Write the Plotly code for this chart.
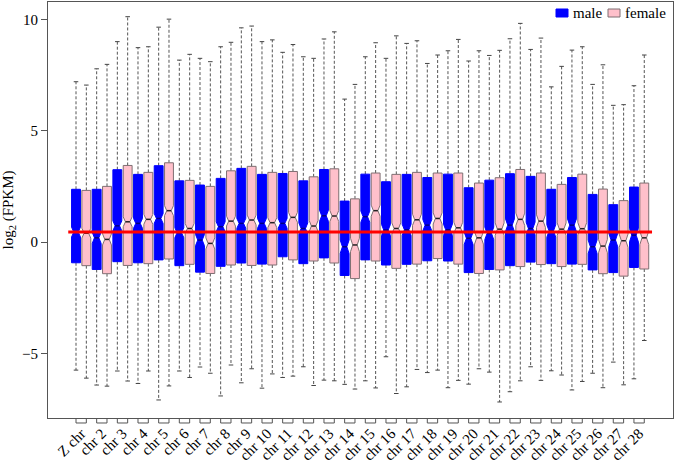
import plotly.graph_objects as go

# chromosome labels, one pair of boxes (male, female) per chromosome
chroms = ["Z chr", "chr 2", "chr 3", "chr 4", "chr 5", "chr 6", "chr 7", "chr 8",
          "chr 9", "chr 10", "chr 11", "chr 12", "chr 13", "chr 14", "chr 15",
          "chr 16", "chr 17", "chr 18", "chr 19", "chr 20", "chr 21", "chr 22",
          "chr 23", "chr 24", "chr 25", "chr 26", "chr 27", "chr 28"]

# log2(FPKM) box statistics
male_upper = [7.20, 7.78, 9.00, 8.73, 9.65, 8.17, 8.25, 8.77, 9.62, 9.00, 8.52, 8.32, 9.12, 6.42,
              8.32, 8.25, 8.92, 8.02, 8.59, 8.13, 8.38, 9.13, 8.65, 6.97, 8.62, 7.08, 6.14, 7.02]
male_q3 = [2.37, 2.37, 3.25, 3.04, 3.43, 2.75, 2.56, 2.86, 3.31, 3.04, 3.08, 2.75, 3.26, 1.84,
           3.05, 2.71, 3.04, 2.90, 3.05, 2.44, 2.78, 3.07, 2.95, 2.37, 2.90, 2.14, 1.68, 2.47]
male_median = [0.45, 0.19, 0.73, 0.84, 1.06, 0.42, 0.09, 0.69, 0.84, 0.84, 0.84, 0.61, 1.18, -0.21,
               1.14, 0.54, 0.55, 0.76, 0.55, 0.17, 0.39, 0.76, 0.61, 0.50, 0.76, -0.21, 0.09, 0.31]
male_q1 = [-0.93, -1.23, -0.88, -0.93, -0.80, -1.06, -1.35, -1.09, -0.94, -0.99, -0.66, -0.97, -0.71, -1.50,
           -0.80, -1.03, -1.00, -0.84, -0.85, -1.37, -1.23, -1.06, -0.90, -0.97, -0.99, -1.25, -1.37, -1.14]
male_lower = [-5.75, -6.42, -5.79, -6.35, -7.09, -5.79, -5.61, -6.91, -6.32, -6.56, -6.08, -5.60, -6.20, -6.39,
              -6.23, -5.15, -6.50, -5.86, -6.54, -6.38, -5.84, -6.72, -5.60, -5.78, -6.64, -5.89, -5.39, -6.14]
male_notch = [0.22, 0.25, 0.22, 0.22, 0.22, 0.22, 0.25, 0.22, 0.22, 0.22, 0.22, 0.25, 0.25, 0.30,
              0.25, 0.25, 0.25, 0.25, 0.25, 0.28, 0.28, 0.28, 0.28, 0.28, 0.28, 0.30, 0.30, 0.30]

female_upper = [7.05, 7.98, 10.12, 8.77, 10.01, 8.43, 8.10, 8.97, 9.70, 9.08, 8.87, 8.25, 9.44, 7.08,
                8.95, 9.26, 9.04, 8.40, 9.10, 8.59, 8.61, 9.82, 9.16, 7.89, 8.77, 7.96, 6.17, 8.40]
female_q3 = [2.32, 2.50, 3.44, 3.13, 3.56, 2.77, 2.50, 3.20, 3.40, 3.13, 3.17, 2.93, 3.29, 1.94,
             3.10, 3.04, 3.13, 3.10, 3.10, 2.65, 2.89, 3.26, 3.10, 2.59, 3.05, 2.38, 1.86, 2.65]
female_median = [0.40, 0.12, 0.91, 1.02, 1.41, 0.61, -0.06, 0.94, 0.99, 0.87, 1.11, 0.72, 1.17, -0.13,
                 1.41, 0.61, 1.00, 1.06, 0.64, 0.19, 0.58, 1.02, 0.94, 0.58, 0.60, -0.18, 0.06, 0.19]
female_q1 = [-1.06, -1.42, -1.05, -0.97, -0.76, -1.00, -1.41, -1.03, -1.05, -1.03, -0.80, -0.85, -0.94, -1.64,
             -0.85, -1.18, -0.99, -0.74, -0.99, -1.41, -1.25, -1.10, -1.01, -1.10, -1.00, -1.42, -1.53, -1.21]
female_lower = [-6.11, -6.47, -6.24, -5.79, -6.46, -6.08, -5.89, -5.52, -5.69, -5.92, -6.02, -6.44, -6.23, -6.60,
                -6.55, -6.80, -5.72, -5.75, -6.21, -5.69, -7.18, -6.23, -6.21, -5.97, -6.26, -6.54, -6.41, -4.42]
female_notch = [0.22, 0.25, 0.22, 0.22, 0.22, 0.22, 0.25, 0.22, 0.22, 0.22, 0.22, 0.25, 0.25, 0.30,
                0.25, 0.25, 0.25, 0.25, 0.25, 0.28, 0.28, 0.28, 0.28, 0.28, 0.28, 0.30, 0.30, 0.30]

ref_level = 0.45  # red horizontal reference line

FONT = "Liberation Serif"
W, H = 674, 464
ML, MR, MT, MB = 48, 1, 2, 46
xmin, xmax = -1.71, 58.78
ymin, ymax = -7.90, 10.78
HALF = 0.43        # half box width (x units)
NOTCH_FRAC = 0.5   # waist width relative to the box, like R's notched boxplot

male_pos = [2 * i + 1 for i in range(len(chroms))]
female_pos = [2 * i + 2 for i in range(len(chroms))]
pair_mid = [p + 0.5 for p in male_pos]


def whisker_xy(pos, q1, q3, lo, hi):
    xs, ys = [], []
    for p, a, b, l, h in zip(pos, q1, q3, lo, hi):
        xs += [p, p, None, p, p, None]
        ys += [b, h, None, a, l, None]
    return xs, ys


def cap_xy(pos, lo, hi, half=0.22):
    xs, ys = [], []
    for p, l, h in zip(pos, lo, hi):
        xs += [p - half, p + half, None, p - half, p + half, None]
        ys += [h, h, None, l, l, None]
    return xs, ys


def notched_xy(pos, q1, med, q3, notch):
    # outline of R style notched boxes, one closed polygon per box
    xs, ys = [], []
    for p, a, m, b, n in zip(pos, q1, med, q3, notch):
        w, nw = HALF, HALF * NOTCH_FRAC
        xs += [p - w, p - w, p - nw, p - w, p - w, p + w, p + w, p + nw, p + w, p + w, p - w, None]
        ys += [a, m - n, m, m + n, b, b, m + n, m, m - n, a, a, None]
    return xs, ys


def median_xy(pos, med):
    xs, ys = [], []
    for p, m in zip(pos, med):
        xs += [p - HALF * NOTCH_FRAC, p + HALF * NOTCH_FRAC, None]
        ys += [m, m, None]
    return xs, ys


fig = go.Figure()

series = [
    ("male", male_pos, male_q1, male_median, male_q3, male_lower, male_upper, male_notch, "#0000ff", "#0000ff"),
    ("female", female_pos, female_q1, female_median, female_q3, female_lower, female_upper, female_notch,
     "#ffc0cb", "#7f6f72"),
]

for name, pos, q1, med, q3, lo, hi, notch, fill, edge in series:
    wx, wy = whisker_xy(pos, q1, q3, lo, hi)
    fig.add_trace(go.Scatter(x=wx, y=wy, mode="lines", showlegend=False, hoverinfo="skip",
                             line=dict(color="#555555", width=1, dash="3px,2px")))
    cx, cy = cap_xy(pos, lo, hi)
    fig.add_trace(go.Scatter(x=cx, y=cy, mode="lines", showlegend=False, hoverinfo="skip",
                             line=dict(color="#444444", width=1)))

for name, pos, q1, med, q3, lo, hi, notch, fill, edge in series:
    bx, by = notched_xy(pos, q1, med, q3, notch)
    fig.add_trace(go.Scatter(x=bx, y=by, mode="lines", fill="toself", fillcolor=fill,
                             name=name, showlegend=False, hoverinfo="skip",
                             line=dict(color=edge, width=1)))
    mx, my = median_xy(pos, med)
    fig.add_trace(go.Scatter(x=mx, y=my, mode="lines", showlegend=False, hoverinfo="skip",
                             line=dict(color="#222222" if name == "female" else "#000080", width=1.5)))

fig.add_trace(go.Scatter(x=[0.25, len(chroms) * 2 + 0.75], y=[ref_level, ref_level],
                         mode="lines", showlegend=False, hoverinfo="skip",
                         line=dict(color="#ff0000", width=3)))


def to_paper(v):
    return (v - xmin) / (xmax - xmin)


def px_x(px):
    return (px - ML) / (W - ML - MR)


def px_y(py):
    return (H - MB - py) / (H - MT - MB)


# bracket ticks under each male/female pair
shapes = []
for m, f in zip(male_pos, female_pos):
    x1, x2 = to_paper(m), to_paper(f)
    shapes.append(dict(type="path", xref="paper", yref="paper",
                       path=f"M{x1},0 L{x1},-0.012 L{x2},-0.012 L{x2},0",
                       line=dict(color="#555555", width=1)))

# legend drawn by hand: filled key + label
annotations = []
for name, fill, edge, kx, tx in [("male", "#0000ff", "#0000ff", 556, 571),
                                 ("female", "#ffc0cb", "#7f6f72", 608, 623)]:
    shapes.append(dict(type="rect", xref="paper", yref="paper",
                       x0=px_x(kx), x1=px_x(kx + 12), y0=px_y(17), y1=px_y(9),
                       fillcolor=fill, line=dict(color=edge, width=1)))
    annotations.append(dict(text=name, xref="paper", yref="paper", x=px_x(tx), y=px_y(13),
                            xanchor="left", yanchor="middle", showarrow=False,
                            font=dict(family=FONT, size=15, color="black")))

fig.update_layout(
    width=W, height=H,
    margin=dict(l=ML, r=MR, t=MT, b=MB),
    paper_bgcolor="white", plot_bgcolor="white",
    font=dict(family=FONT, size=15, color="black"),
    shapes=shapes,
    annotations=annotations,
    showlegend=False,
    xaxis=dict(range=[xmin, xmax], tickvals=pair_mid, ticktext=chroms, tickangle=-45,
               ticks="", showgrid=False, zeroline=False, automargin=False,
               showline=True, mirror=True, linecolor="#555555", linewidth=1,
               tickfont=dict(family=FONT, size=15)),
    yaxis=dict(range=[ymin, ymax], tickvals=[-5, 0, 5, 10], ticktext=["\u22125", "0", "5", "10"],
               ticks="outside", ticklen=6, tickcolor="#555555", automargin=False,
               showgrid=False, zeroline=False,
               showline=True, mirror=True, linecolor="#555555", linewidth=1,
               tickfont=dict(family=FONT, size=15),
               title=dict(text="log<sub>2</sub> (FPKM)", font=dict(family=FONT, size=15), standoff=6)),
)

fig.write_html("out.html", config={"displayModeBar": False},
               post_script="document.body.style.margin='0';")
